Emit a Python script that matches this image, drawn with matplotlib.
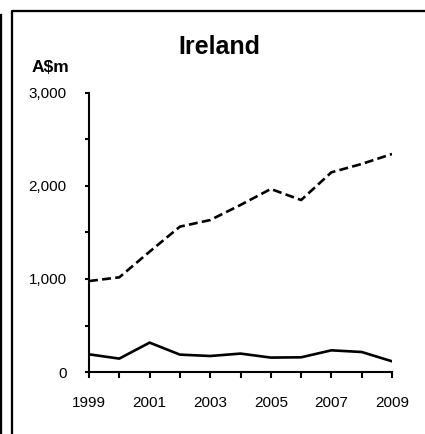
import matplotlib
matplotlib.use("Agg")
from matplotlib import pyplot as plt
from matplotlib.lines import Line2D
from matplotlib.ticker import MultipleLocator

plt.rcParams['font.family'] = ['Liberation Sans', 'DejaVu Sans']

years = [1999, 2000, 2001, 2002, 2003, 2004, 2005, 2006, 2007, 2008, 2009]
# dashed series
upper = [978, 1018, 1294, 1563, 1634, 1796, 1968, 1849, 2147, 2237, 2344]
# solid series
lower = [190, 144, 316, 187, 172, 198, 155, 158, 233, 215, 115]
xlabels = ['1999', '', '2001', '', '2003', '', '2005', '', '2007', '', '2009']

W, H = 425, 434
fig = plt.figure(figsize=(W / 100, H / 100), dpi=100)
ax = fig.add_axes([89 / W, 1 - 372 / H, 303 / W, 279 / H])

ax.plot(years, upper, color='black', lw=1.9, linestyle=(0, (3.4, 1.6)))
ax.plot(years, lower, color='black', lw=1.9)

ax.set_xlim(1999, 2009)
ax.set_ylim(0, 3000)
ax.set_xticks(years)
ax.set_xticklabels(xlabels)
ax.yaxis.set_major_locator(MultipleLocator(1000))
ax.yaxis.set_minor_locator(MultipleLocator(500))
ax.yaxis.set_major_formatter(lambda v, p: f'{int(v):,}')

for s in ['top', 'right']:
    ax.spines[s].set_visible(False)
for s in ['left', 'bottom']:
    ax.spines[s].set_linewidth(1.5)

ax.tick_params(axis='y', which='both', direction='out', length=3, width=1.5,
               labelsize=11, pad=13)
ax.tick_params(axis='x', direction='out', length=4, width=1.5,
               labelsize=11, pad=13)

fig.text(219 / W, 1 - 47 / H, 'Ireland', ha='center', va='center',
         fontsize=18, fontweight='bold')
fig.text(50 / W, 1 - 68 / H, 'A$m', ha='center', va='center',
         fontsize=12.5, fontweight='bold')

# frame lines around the panel
def px_line(xs, ys):
    fig.add_artist(Line2D([x / W for x in xs], [1 - y / H for y in ys],
                          transform=fig.transFigure, color='black', lw=1.65,
                          solid_capstyle='projecting'))

px_line([12, 12, 430], [440, 11, 11])
px_line([1, 1], [15, 440])

fig.savefig('out.png', dpi=100)
